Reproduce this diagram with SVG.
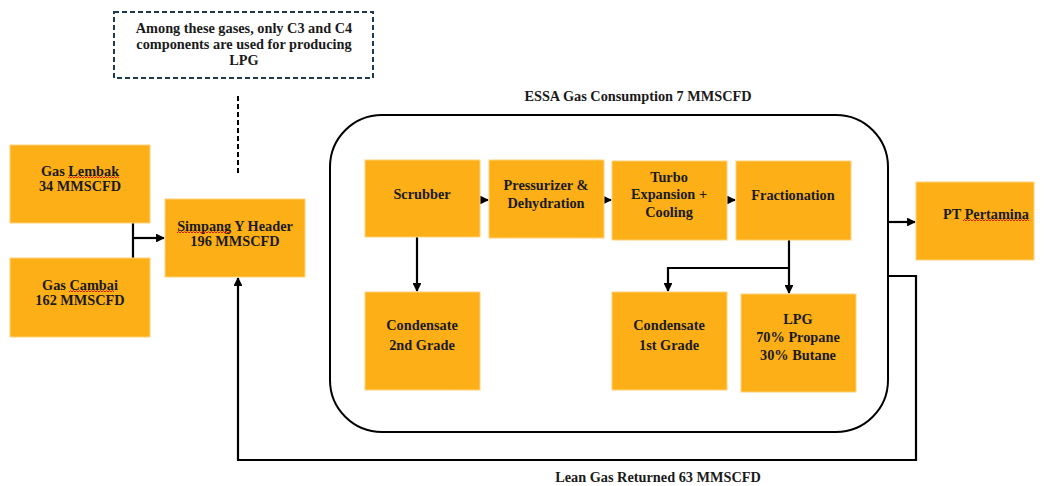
<svg xmlns="http://www.w3.org/2000/svg" width="1044" height="486" viewBox="0 0 1044 486">
<defs>
<style>
.n{fill:#FCAF17;stroke:#FFD27A;stroke-width:1}
.t{font-family:"Liberation Serif","DejaVu Serif",serif;font-weight:bold;font-size:14.3px;fill:#1a1a1a;text-anchor:middle}
.c{fill:none;stroke:#000;stroke-width:2.2}
.sq{fill:none;stroke:#e01010;stroke-width:0.9}
</style>
<marker id="a" viewBox="0 0 10 10" refX="9" refY="5" markerWidth="4" markerHeight="4" orient="auto"><path d="M0,0L10,5L0,10z" fill="#000"/></marker>
</defs>
<rect width="1044" height="486" fill="#fff"/>
<g id="note">
<rect x="114" y="12" width="259" height="66" fill="#fff" stroke="#1e3a4c" stroke-width="2" stroke-dasharray="5,3"/>
<text class="t" x="244" y="33">Among these gases, only C3 and C4</text>
<text class="t" x="244" y="49">components are used for producing</text>
<text class="t" x="244" y="65">LPG</text>
</g>
<g id="essa-boundary">
<rect x="330" y="115" width="558" height="317" rx="52" fill="none" stroke="#000" stroke-width="2"/>
<text class="t" x="638" y="101">ESSA Gas Consumption 7 MMSCFD</text>
</g>
<g id="connectors">
<path d="M238,96V175" fill="none" stroke="#000" stroke-width="2" stroke-dasharray="5,3"/>
<path class="c" d="M133,223V258"/>
<path class="c" d="M133,238H164" marker-end="url(#a)"/>
<path class="c" d="M480,200H488" marker-end="url(#a)"/>
<path class="c" d="M604,200H611" marker-end="url(#a)"/>
<path class="c" d="M726,200H735" marker-end="url(#a)"/>
<path class="c" d="M417,237V291" marker-end="url(#a)"/>
<path class="c" d="M789,240V293" marker-end="url(#a)"/>
<path class="c" d="M789,268H668V291" marker-end="url(#a)"/>
<path class="c" d="M888,222H915" marker-end="url(#a)"/>
<path class="c" d="M888,276H916V460H238V278" marker-end="url(#a)"/>
<text class="t" x="658" y="482">Lean Gas Returned 63 MMSCFD</text>
</g>
<g id="gas-lembak">
<rect class="n" x="10" y="145" width="140" height="78"/>
<text class="t" x="80" y="176">Gas Lembak</text>
<text class="t" x="80" y="191">34 MMSCFD</text>
<path class="sq" d="M68,178l1.5,-1.5l1.5,1.5l1.5,-1.5l1.5,1.5l1.5,-1.5l1.5,1.5l1.5,-1.5l1.5,1.5l1.5,-1.5l1.5,1.5l1.5,-1.5l1.5,1.5l1.5,-1.5l1.5,1.5l1.5,-1.5l1.5,1.5l1.5,-1.5l1.5,1.5l1.5,-1.5l1.5,1.5l1.5,-1.5l1.5,1.5l1.5,-1.5l1.5,1.5l1.5,-1.5l1.5,1.5l1.5,-1.5l1.5,1.5l1.5,-1.5l1.5,1.5l1.5,-1.5l1.5,1.5l1.5,-1.5l1.5,1.5"/>
</g>
<g id="gas-cambai">
<rect class="n" x="10" y="258" width="140" height="79"/>
<text class="t" x="80" y="290">Gas Cambai</text>
<text class="t" x="80" y="305">162 MMSCFD</text>
<path class="sq" d="M69,292l1.5,-1.5l1.5,1.5l1.5,-1.5l1.5,1.5l1.5,-1.5l1.5,1.5l1.5,-1.5l1.5,1.5l1.5,-1.5l1.5,1.5l1.5,-1.5l1.5,1.5l1.5,-1.5l1.5,1.5l1.5,-1.5l1.5,1.5l1.5,-1.5l1.5,1.5l1.5,-1.5l1.5,1.5l1.5,-1.5l1.5,1.5l1.5,-1.5l1.5,1.5l1.5,-1.5l1.5,1.5l1.5,-1.5l1.5,1.5l1.5,-1.5l1.5,1.5"/>
</g>
<g id="simpang">
<rect class="n" x="165" y="199" width="140" height="78"/>
<text class="t" x="235" y="231">Simpang Y Header</text>
<text class="t" x="235" y="246">196 MMSCFD</text>
<path class="sq" d="M177,233l1.5,-1.5l1.5,1.5l1.5,-1.5l1.5,1.5l1.5,-1.5l1.5,1.5l1.5,-1.5l1.5,1.5l1.5,-1.5l1.5,1.5l1.5,-1.5l1.5,1.5l1.5,-1.5l1.5,1.5l1.5,-1.5l1.5,1.5l1.5,-1.5l1.5,1.5l1.5,-1.5l1.5,1.5l1.5,-1.5l1.5,1.5l1.5,-1.5l1.5,1.5l1.5,-1.5l1.5,1.5l1.5,-1.5l1.5,1.5l1.5,-1.5l1.5,1.5l1.5,-1.5l1.5,1.5l1.5,-1.5l1.5,1.5l1.5,-1.5l1.5,1.5"/>
</g>
<g id="scrubber">
<rect class="n" x="365" y="160" width="115" height="77"/>
<text class="t" x="422" y="199">Scrubber</text>
</g>
<g id="pressurizer">
<rect class="n" x="489" y="160" width="115" height="78"/>
<text class="t" x="546" y="190">Pressurizer &amp;</text>
<text class="t" x="546" y="208">Dehydration</text>
</g>
<g id="turbo">
<rect class="n" x="612" y="161" width="115" height="79"/>
<text class="t" x="669" y="182">Turbo</text>
<text class="t" x="669" y="199">Expansion +</text>
<text class="t" x="669" y="217">Cooling</text>
</g>
<g id="fractionation">
<rect class="n" x="736" y="161" width="115" height="79"/>
<text class="t" x="793" y="200">Fractionation</text>
</g>
<g id="pt-pertamina">
<rect class="n" x="916" y="182" width="118" height="78"/>
<text class="t" x="986" y="219">PT Pertamina</text>
<path class="sq" d="M963,221l1.5,-1.5l1.5,1.5l1.5,-1.5l1.5,1.5l1.5,-1.5l1.5,1.5l1.5,-1.5l1.5,1.5l1.5,-1.5l1.5,1.5l1.5,-1.5l1.5,1.5l1.5,-1.5l1.5,1.5l1.5,-1.5l1.5,1.5l1.5,-1.5l1.5,1.5l1.5,-1.5l1.5,1.5l1.5,-1.5l1.5,1.5l1.5,-1.5l1.5,1.5l1.5,-1.5l1.5,1.5l1.5,-1.5l1.5,1.5l1.5,-1.5l1.5,1.5l1.5,-1.5l1.5,1.5l1.5,-1.5l1.5,1.5l1.5,-1.5l1.5,1.5l1.5,-1.5l1.5,1.5l1.5,-1.5l1.5,1.5l1.5,-1.5l1.5,1.5l1.5,-1.5l1.5,1.5"/>
</g>
<g id="condensate-2nd">
<rect class="n" x="365" y="292" width="115" height="98"/>
<text class="t" x="422" y="330">Condensate</text>
<text class="t" x="422" y="350">2nd Grade</text>
</g>
<g id="condensate-1st">
<rect class="n" x="612" y="292" width="115" height="98"/>
<text class="t" x="669" y="330">Condensate</text>
<text class="t" x="669" y="350">1st Grade</text>
</g>
<g id="lpg">
<rect class="n" x="741" y="294" width="115" height="98"/>
<text class="t" x="798" y="324">LPG</text>
<text class="t" x="798" y="342">70% Propane</text>
<text class="t" x="798" y="360">30% Butane</text>
</g>
</svg>
